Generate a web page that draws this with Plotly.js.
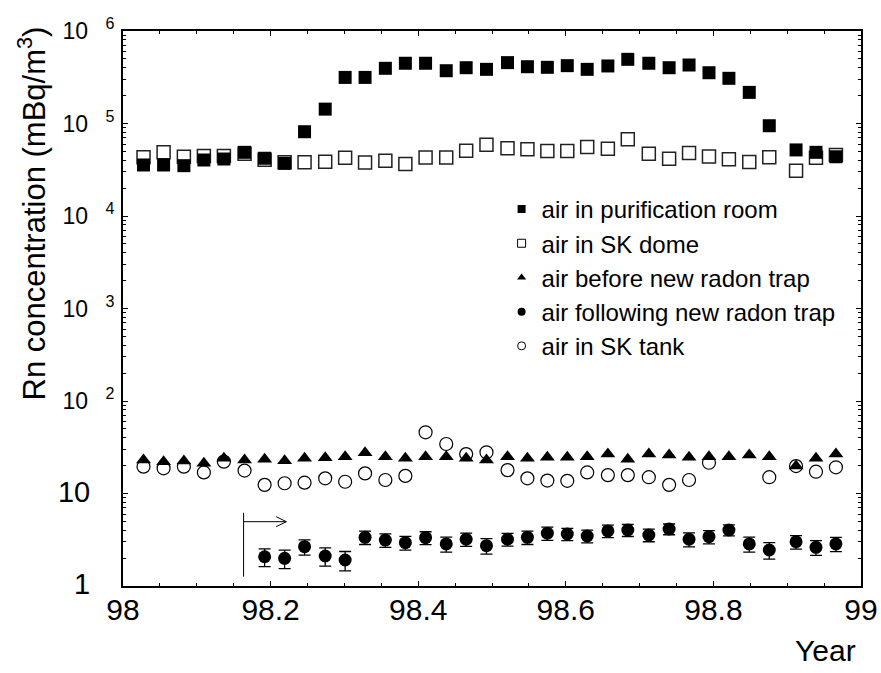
<!DOCTYPE html>
<html>
<head>
<meta charset="utf-8">
<script src="https://cdn.plot.ly/plotly-3.0.1.min.js"></script>
<style>html,body{margin:0;padding:0;background:#fff;}#chart{width:881px;height:673px;}</style>
</head>
<body>
<div id="chart"></div>
<script>
// Sampling dates (fraction of year)
const years = [98.0278, 98.055, 98.0825, 98.1096, 98.1367, 98.1647, 98.1919, 98.219, 98.246, 98.274,
  98.301, 98.328, 98.3555, 98.3826, 98.41, 98.438, 98.465, 98.4925, 98.521, 98.548,
  98.575, 98.602, 98.629, 98.657, 98.684, 98.7125, 98.74, 98.767, 98.794, 98.821,
  98.8486, 98.8757, 98.912, 98.939, 98.966];

// air in purification room (mBq/m3)
const purificationRoom = [35600, 35600, 35000, 40300, 41300, 48800, 42100, 37100, 81500, 143000,
  315000, 315000, 395000, 448000, 448000, 372000, 401000, 385000, 455000, 411000,
  405000, 422000, 385000, 419000, 494000, 448000, 401000, 429000, 354000, 308000,
  217000, 94600, 51800, 48800, 43700];

// air in SK dome
const skDome = [43100, 48800, 43700, 44600, 44600, 47000, 40500, 38100, 38100, 38600,
  42600, 37900, 39600, 36500, 42900, 42900, 50700, 59000, 54000, 52600,
  50500, 50500, 55700, 53500, 67400, 47200, 41700, 48000, 44100, 41000,
  38400, 43100, 30800, 42700, 45600];

// air before new radon trap
const beforeTrap = [23.0, 22.1, 22.5, 21.2, 24.0, 23.0, 23.4, 22.6, 24.0, 24.4,
  25.0, 27.6, 25.0, 24.0, 25.0, 25.0, 24.0, 23.0, 25.0, 24.0,
  24.6, 24.6, 25.0, 26.7, 23.4, 26.7, 26.0, 24.6, 25.0, 25.0,
  26.0, 25.0, 19.8, 24.0, 26.7];

// air in SK tank
const skTank = [19.5, 18.7, 19.5, 16.9, 22.1, 17.7, 12.4, 12.9, 13.1, 14.6,
  13.4, 16.5, 14.0, 15.5, 45.9, 34.3, 26.7, 27.9, 17.9, 14.6,
  13.8, 13.7, 16.9, 15.8, 15.8, 15.0, 12.4, 14.0, 21.5, null,
  null, 15.0, 19.8, 17.2, 19.2];

// air following new radon trap (starts later)
const followingYears = [98.1919, 98.219, 98.246, 98.274, 98.301, 98.328, 98.3555, 98.3826, 98.41, 98.438,
  98.465, 98.4925, 98.521, 98.548, 98.575, 98.602, 98.629, 98.657, 98.684, 98.7125,
  98.74, 98.767, 98.794, 98.821, 98.8486, 98.8757, 98.912, 98.939, 98.966];
const followingTrap = [2.07, 1.99, 2.66, 2.11, 1.91, 3.36, 3.14, 2.94, 3.33, 2.85,
  3.20, 2.73, 3.20, 3.36, 3.72, 3.65, 3.47, 3.94, 4.03, 3.56,
  4.13, 3.20, 3.41, 4.03, 2.85, 2.45, 3.01, 2.62, 2.85];
const followingErr = [0.45, 0.45, 0.50, 0.47, 0.45, 0.55, 0.52, 0.50, 0.53, 0.53,
  0.52, 0.52, 0.50, 0.55, 0.60, 0.55, 0.55, 0.60, 0.60, 0.55,
  0.55, 0.55, 0.55, 0.55, 0.53, 0.50, 0.50, 0.48, 0.50];

const legendNames = ['air in purification room', 'air in SK dome', 'air before new radon trap',
  'air following new radon trap', 'air in SK tank'];

const yTickVals = [1, 10, 100, 1000, 10000, 100000, 1000000];
const NB = '\u00A0';
const yTickText = [
  '<span style="font-size:29px">1' + NB + NB + NB + '</span>',
  '<span style="font-size:29px">10' + NB + NB + NB + '</span>',
  '10' + NB + NB + '<sup>' + NB + '2</sup>',
  '10' + NB + NB + '<sup>' + NB + '3</sup>',
  '10' + NB + NB + '<sup>' + NB + '4</sup>',
  '10' + NB + NB + '<sup>' + NB + '5</sup>',
  '10' + NB + NB + '<sup>' + NB + '6</sup>'
];

const FONT = 'Liberation Sans, Arial, Helvetica, sans-serif';

const traces = [
  {x: years, y: skDome, type: 'scatter', mode: 'markers', showlegend: false, name: legendNames[1],
   marker: {symbol: 'square', size: 13, color: 'rgba(255,255,255,0)', line: {color: '#222', width: 1.5}}},
  {x: years, y: purificationRoom, type: 'scatter', mode: 'markers', showlegend: false, name: legendNames[0],
   marker: {symbol: 'square', size: 13, color: '#000', line: {width: 0}}},
  {x: years, y: skTank, type: 'scatter', mode: 'markers', showlegend: false, name: legendNames[4],
   marker: {symbol: 'circle', size: 13, color: 'rgba(255,255,255,0)', line: {color: '#000', width: 1.2}}},
  {x: years, y: beforeTrap, type: 'scatter', mode: 'markers', showlegend: false, name: legendNames[2],
   marker: {symbol: 'triangle-up', size: 13, color: '#000', line: {width: 0}}},
  {x: followingYears, y: followingTrap, type: 'scatter', mode: 'markers', showlegend: false, name: legendNames[3],
   error_y: {type: 'data', array: followingErr, visible: true, color: '#000', thickness: 1.3, width: 6},
   marker: {symbol: 'circle', size: 13, color: '#000', line: {width: 0}}},
  // legend entries (small symbols as in the original figure)
  {x: [null], y: [null], type: 'scatter', mode: 'markers', name: legendNames[0],
   marker: {symbol: 'square', size: 8, color: '#000'}},
  {x: [null], y: [null], type: 'scatter', mode: 'markers', name: legendNames[1],
   marker: {symbol: 'square', size: 8, color: '#fff', line: {color: '#000', width: 1}}},
  {x: [null], y: [null], type: 'scatter', mode: 'markers', name: legendNames[2],
   marker: {symbol: 'triangle-up', size: 8, color: '#000'}},
  {x: [null], y: [null], type: 'scatter', mode: 'markers', name: legendNames[3],
   marker: {symbol: 'circle', size: 8, color: '#000'}},
  {x: [null], y: [null], type: 'scatter', mode: 'markers', name: legendNames[4],
   marker: {symbol: 'circle', size: 8, color: '#fff', line: {color: '#000', width: 1}}}
];

const layout = {
  width: 881, height: 673,
  margin: {l: 123, r: 20, t: 31, b: 87},
  paper_bgcolor: '#fff', plot_bgcolor: '#fff',
  font: {family: FONT, color: '#000'},
  showlegend: true,
  legend: {x: 0.513, y: 0.719, xanchor: 'left', yanchor: 'top', bgcolor: 'rgba(0,0,0,0)',
           font: {family: FONT, size: 24, color: '#000'}, itemwidth: 30},
  xaxis: {
    type: 'linear', range: [98, 99], tickmode: 'linear', tick0: 98, dtick: 0.2,
    ticks: 'inside', ticklen: 5, tickwidth: 1, tickcolor: '#000',
    minor: {tickmode: 'linear', tick0: 98, dtick: 0.05, ticks: 'inside', ticklen: 3, tickcolor: '#000', tickwidth: 1},
    showline: true, linecolor: '#000', linewidth: 2, mirror: 'allticks',
    showgrid: false, zeroline: false,
    tickfont: {family: FONT, size: 30, color: '#000'}, ticklabelstandoff: -4
  },
  yaxis: {
    type: 'log', range: [0, 6], tickmode: 'array', tickvals: yTickVals, ticktext: yTickText,
    ticks: 'inside', ticklen: 5, tickwidth: 1, tickcolor: '#000',
    minor: {dtick: 'D1', ticks: 'inside', ticklen: 3, tickcolor: '#000', tickwidth: 1},
    showline: true, linecolor: '#000', linewidth: 2, mirror: 'allticks',
    showgrid: false, zeroline: false,
    tickfont: {family: FONT, size: 23, color: '#000'}, ticklabelstandoff: 2
  },
  annotations: [
    {text: 'Year', xref: 'paper', yref: 'paper', x: 1, y: -0.117, xanchor: 'right', yanchor: 'middle',
     xshift: -3, showarrow: false, font: {family: FONT, size: 30, color: '#000'}},
    {text: 'Rn concentration (mBq/m<sup>3</sup>)', xref: 'paper', yref: 'paper', x: -0.1227, y: 0.672,
     xanchor: 'center', yanchor: 'middle', textangle: -90, showarrow: false,
     font: {family: FONT, size: 31, color: '#000'}}
  ],
  shapes: [
    {type: 'line', xref: 'x', yref: 'paper', x0: 98.1634, x1: 98.1634, y0: 0.0168, y1: 0.132, line: {color: '#000', width: 1}},
    {type: 'line', xref: 'x', yref: 'paper', x0: 98.1634, x1: 98.2213, y0: 0.1159, y1: 0.1159, line: {color: '#000', width: 1}},
    {type: 'path', xref: 'x', yref: 'paper', path: 'M98.2076,0.1249 L98.2213,0.1159 L98.2076,0.1069', line: {color: '#000', width: 1}}
  ]
};

Plotly.newPlot('chart', traces, layout, {displayModeBar: false, staticPlot: true});
</script>
</body>
</html>
